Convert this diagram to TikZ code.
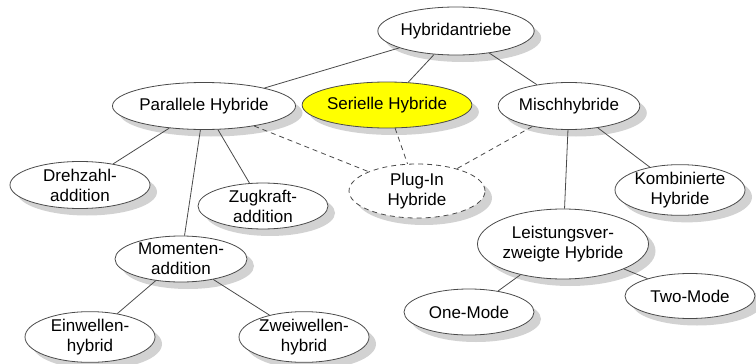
\documentclass[tikz,border=0pt]{standalone}
\usepackage{fontspec}
\setmainfont{Liberation Sans}
\usepackage{xcolor}
\usepackage{tikz}
\usetikzlibrary{shapes.geometric, shadows}
\definecolor{rimgray}{HTML}{4A4A4A}
\definecolor{shadegray}{HTML}{D2D2D2}
\definecolor{hybyellow}{HTML}{FFFF00}

\tikzset{
  hybnode/.style={ellipse, draw=rimgray, line width=0.8pt, fill=white, align=center,
    inner sep=0pt, font=\fontsize{17}{20}\selectfont,
    drop shadow={shadow xshift=7pt, shadow yshift=-7pt, fill=shadegray, opacity=1}},
  optnode/.style={hybnode, dash pattern=on 5pt off 4pt},
  conn/.style={draw=rimgray, line width=0.8pt},
  optconn/.style={conn, dash pattern=on 5pt off 4pt}
}

\begin{document}
\begin{tikzpicture}[x=1pt, y=-1pt]
    \useasboundingbox (0,0) rectangle (756,364);

    \node[hybnode, minimum width=138pt, minimum height=48pt] (antrieb) at (456,31) {Hybridantriebe};
    \node[hybnode, minimum width=138pt, minimum height=47pt] (parallel) at (204,106) {Parallele Hybride};
    \node[hybnode, fill=hybyellow, minimum width=138pt, minimum height=46pt] (seriell) at (387,105) {Serielle Hybride};
    \node[hybnode, minimum width=136pt, minimum height=47pt] (misch) at (569,106) {Mischhybride};
    \node[hybnode, minimum width=140pt, minimum height=47pt] (drehzahl) at (80,185) {Drehzahl-\\addition};
    \node[hybnode, minimum width=130pt, minimum height=44pt] (zugkraft) at (263,206) {Zugkraft-\\addition};
    \node[optnode, minimum width=136pt, minimum height=54pt] (plugin) at (417,191) {Plug-In\\Hybride};
    \node[hybnode, minimum width=130pt, minimum height=48pt] (kombi) at (680,190) {Kombinierte\\Hybride};
    \node[hybnode, minimum width=132pt, minimum height=46pt] (moment) at (181,259) {Momenten-\\addition};
    \node[hybnode, minimum width=144pt, minimum height=70pt] (leistung) at (563,244) {Leistungsver-\\zweigte Hybride};
    \node[hybnode, minimum width=130pt, minimum height=50pt] (einwellen) at (90,337) {Einwellen-\\hybrid};
    \node[hybnode, minimum width=130pt, minimum height=50pt] (zweiwellen) at (304,337) {Zweiwellen-\\hybrid};
    \node[hybnode, minimum width=130pt, minimum height=46pt] (onemode) at (469,312) {One-Mode};
    \node[hybnode, minimum width=130pt, minimum height=45pt] (twomode) at (690,296) {Two-Mode};

    \draw[conn] (antrieb) -- (parallel);
    \draw[conn] (antrieb) -- (seriell);
    \draw[conn] (antrieb) -- (misch);
    \draw[conn] (parallel) -- (drehzahl);
    \draw[conn] (parallel) -- (moment);
    \draw[conn] (parallel) -- (zugkraft);
    \draw[conn] (moment) -- (einwellen);
    \draw[conn] (moment) -- (zweiwellen);
    \draw[conn] (misch) -- (leistung);
    \draw[conn] (misch) -- (kombi);
    \draw[conn] (leistung) -- (onemode);
    \draw[conn] (leistung) -- (twomode);
    \draw[optconn] (parallel) -- (plugin);
    \draw[optconn] (seriell) -- (plugin);
    \draw[optconn] (misch) -- (plugin);
\end{tikzpicture}
\end{document}
